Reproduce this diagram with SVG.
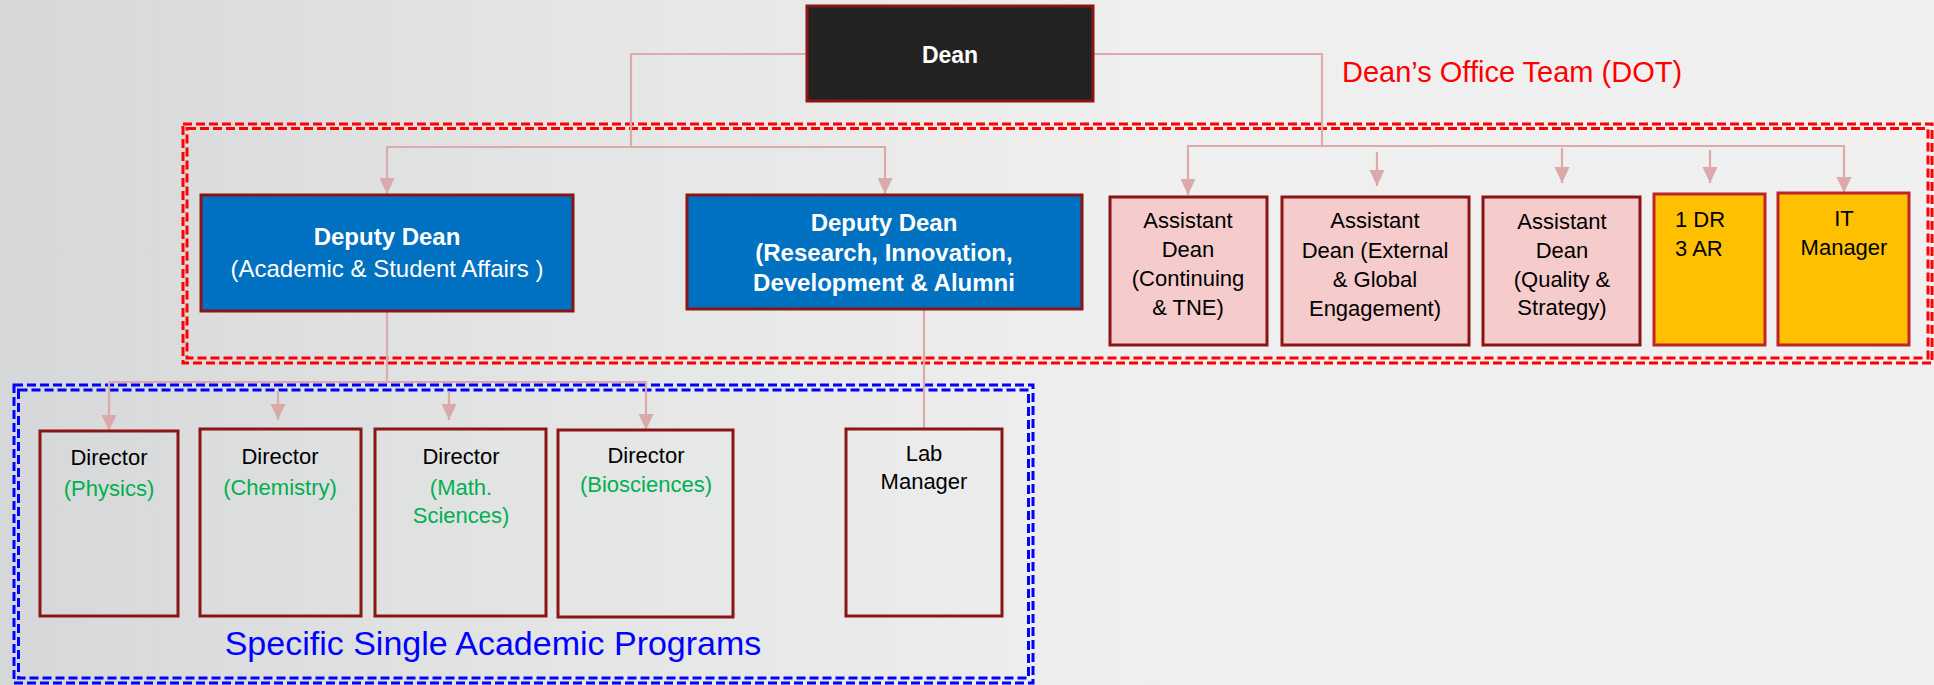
<svg xmlns="http://www.w3.org/2000/svg" width="1934" height="685" viewBox="0 0 1934 685">
  <defs>
    <linearGradient id="bg" x1="0" y1="0" x2="1" y2="0">
      <stop offset="0" stop-color="#d6d7d8"/>
      <stop offset="0.3" stop-color="#e4e5e5"/>
      <stop offset="0.6" stop-color="#efefef"/>
      <stop offset="1" stop-color="#f0f0f0"/>
    </linearGradient>
    <marker id="arr" markerUnits="userSpaceOnUse" markerWidth="18" markerHeight="18" viewBox="0 0 18 18" refX="16" refY="9" orient="auto">
      <path d="M0,1.5 L16,9 L0,16.5 z" fill="#dba9a9"/>
    </marker>
  </defs>
  <style>
    .conn { fill: none; stroke: #dcaaaa; stroke-width: 2.2; }
    .arrow { fill: none; stroke: #dcaaaa; stroke-width: 2.2; marker-end: url(#arr); }
    .box { stroke: #8b1515; stroke-width: 3; }
    .dd { fill: #0070c0; }
    .ad { fill: #f5cbcb; }
    .yl { fill: #ffc000; stroke: #c0242a; stroke-width: 3; }
    .dir { fill: none; }
    .t { font-family: "Liberation Sans", Arial, sans-serif; font-size: 22px; fill: #000; text-anchor: middle; }
    .w { fill: #ffffff; font-size: 24px; }
    .b { font-weight: bold; }
    .g { fill: #00b050; }
    .redd { fill: none; stroke: #ff0000; stroke-width: 3; stroke-dasharray: 9 4; }
    .blud { fill: none; stroke: #0000ff; stroke-width: 3; stroke-dasharray: 9 4; }
  </style>
  <rect x="0" y="0" width="1934" height="685" fill="url(#bg)"/>

  <g id="groups">
    <rect class="redd" x="183" y="124" width="1749" height="239"/>
    <rect class="redd" x="187" y="128.5" width="1741" height="229.5"/>
    <rect class="blud" x="14" y="385" width="1019" height="298"/>
    <rect class="blud" x="18.5" y="390" width="1010" height="288"/>
    <text class="t" x="1342" y="82" style="font-size:29px;fill:#ff0000;text-anchor:start">Dean’s Office Team (DOT)</text>
    <text class="t" x="493" y="655" style="font-size:34px;fill:#0000ff">Specific Single Academic Programs</text>
  </g>

  <g id="connectors">
    <polyline class="conn" points="807,54 631,54 631,147"/>
    <polyline class="arrow" points="631,147 387,147 387,194"/>
    <polyline class="arrow" points="631,147 885,147 885,194"/>
    <polyline class="conn" points="1093,54 1322,54 1322,146"/>
    <polyline class="arrow" points="1322,146 1188,146 1188,195"/>
    <polyline class="arrow" points="1322,146 1844,146 1844,193"/>
    <line class="arrow" x1="1377" y1="152" x2="1377" y2="186"/>
    <line class="arrow" x1="1562" y1="148" x2="1562" y2="183"/>
    <line class="arrow" x1="1710" y1="150" x2="1710" y2="183"/>
    <polyline class="conn" points="387,311 387,382"/>
    <polyline class="arrow" points="387,382 109,382 109,431"/>
    <polyline class="arrow" points="387,382 646,382 646,430"/>
    <line class="arrow" x1="278" y1="391" x2="278" y2="420"/>
    <line class="arrow" x1="449" y1="391" x2="449" y2="420"/>
    <line class="conn" x1="924" y1="309" x2="924" y2="429"/>
  </g>

  <g id="dean">
    <rect class="box" x="807" y="6" width="286" height="95" fill="#222222" stroke="#7f1111"/>
    <text class="t w b" x="950" y="63" style="font-size:23px">Dean</text>
  </g>

  <g id="deputy-dean-academic">
    <rect class="box dd" x="201" y="195" width="372" height="116"/>
    <text class="t w b" x="387" y="245">Deputy Dean</text>
    <text class="t w" x="387" y="277">(Academic &amp; Student Affairs )</text>
  </g>

  <g id="deputy-dean-research">
    <rect class="box dd" x="687" y="195" width="395" height="114"/>
    <text class="t w b" x="884" y="231">Deputy Dean</text>
    <text class="t w b" x="884" y="261">(Research, Innovation,</text>
    <text class="t w b" x="884" y="291">Development &amp; Alumni</text>
  </g>

  <g id="ad-continuing">
    <rect class="box ad" x="1110" y="197" width="157" height="148"/>
    <text class="t" x="1188" y="228">Assistant</text>
    <text class="t" x="1188" y="257">Dean</text>
    <text class="t" x="1188" y="286">(Continuing</text>
    <text class="t" x="1188" y="315">&amp; TNE)</text>
  </g>

  <g id="ad-external">
    <rect class="box ad" x="1282" y="197" width="187" height="148"/>
    <text class="t" x="1375" y="228">Assistant</text>
    <text class="t" x="1375" y="258">Dean (External</text>
    <text class="t" x="1375" y="287">&amp; Global</text>
    <text class="t" x="1375" y="316">Engagement)</text>
  </g>

  <g id="ad-quality">
    <rect class="box ad" x="1483" y="197" width="157" height="148"/>
    <text class="t" x="1562" y="229">Assistant</text>
    <text class="t" x="1562" y="258">Dean</text>
    <text class="t" x="1562" y="287">(Quality &amp;</text>
    <text class="t" x="1562" y="315">Strategy)</text>
  </g>

  <g id="dr-ar">
    <rect class="yl" x="1654" y="194" width="111" height="151"/>
    <text class="t" x="1675" y="227" style="text-anchor:start">1 DR</text>
    <text class="t" x="1675" y="256" style="text-anchor:start">3 AR</text>
  </g>

  <g id="it-manager">
    <rect class="yl" x="1778" y="193" width="131" height="152"/>
    <text class="t" x="1844" y="226">IT</text>
    <text class="t" x="1844" y="255">Manager</text>
  </g>

  <g id="director-physics">
    <rect class="box dir" x="40" y="431" width="138" height="185"/>
    <text class="t" x="109" y="465">Director</text>
    <text class="t g" x="109" y="496">(Physics)</text>
  </g>

  <g id="director-chemistry">
    <rect class="box dir" x="200" y="429" width="161" height="187"/>
    <text class="t" x="280" y="464">Director</text>
    <text class="t g" x="280" y="495">(Chemistry)</text>
  </g>

  <g id="director-math">
    <rect class="box dir" x="375" y="429" width="171" height="187"/>
    <text class="t" x="461" y="464">Director</text>
    <text class="t g" x="461" y="495">(Math.</text>
    <text class="t g" x="461" y="523">Sciences)</text>
  </g>

  <g id="director-biosciences">
    <rect class="box dir" x="558" y="430" width="175" height="187"/>
    <text class="t" x="646" y="463">Director</text>
    <text class="t g" x="646" y="492">(Biosciences)</text>
  </g>

  <g id="lab-manager">
    <rect class="box dir" x="846" y="429" width="156" height="187"/>
    <text class="t" x="924" y="461">Lab</text>
    <text class="t" x="924" y="489">Manager</text>
  </g>
</svg>
